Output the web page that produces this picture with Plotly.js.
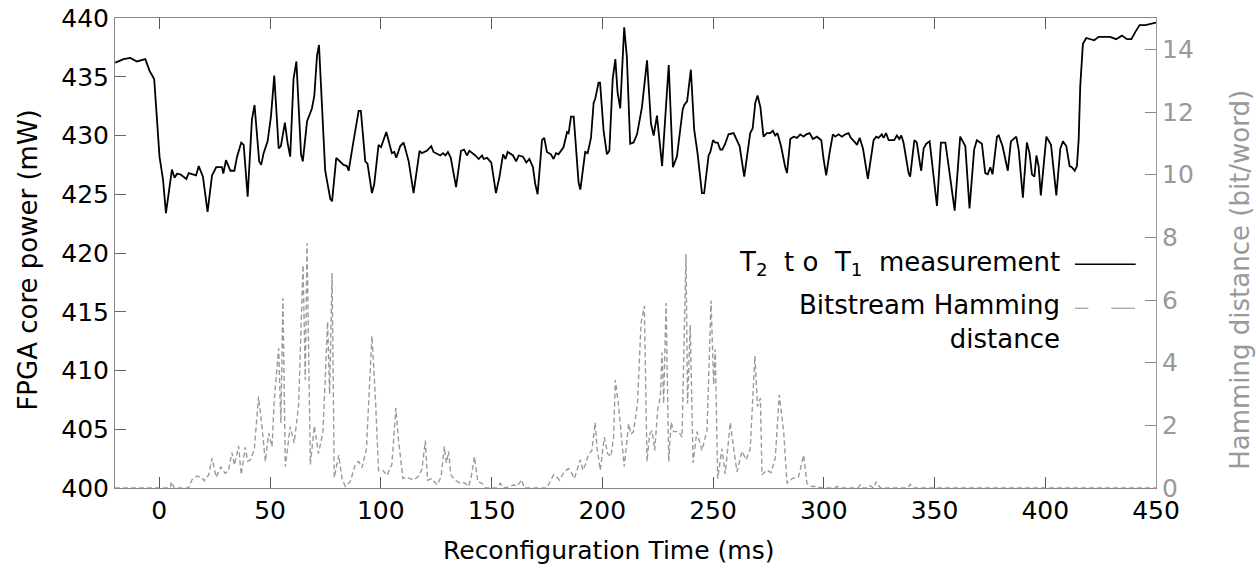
<!DOCTYPE html>
<html>
<head>
<meta charset="utf-8">
<script src="https://cdn.plot.ly/plotly-3.0.1.min.js"></script>
<style>html,body{margin:0;padding:0;background:#fff;}#chart{width:1256px;height:569px;}</style>
</head>
<body>
<div id="chart"></div>
<script>
// Power measurement (ms, mW)
const powerTime = [-19.9,-16.1,-13.1,-10.1,-6.3,-4.4,-2.3,0.1,1.7,3.0,5.7,6.9,8.0,9.5,12.2,13.3,16.6,17.8,19.7,21.8,23.8,25.7,28.3,28.9,30.1,32.1,33.9,35.1,37.0,38.1,39.9,41.8,43.0,45.1,46.0,47.1,48.9,50.4,51.9,53.9,54.9,56.7,57.9,59.1,60.6,61.9,64.0,64.8,66.7,68.9,70.0,71.2,72.1,74.9,77.2,78.0,79.9,81.7,83.2,84.7,85.5,87.4,90.0,91.0,93.0,94.0,96.0,97.0,99.0,100.1,102.5,105.0,106.1,107.0,108.8,110.3,112.6,114.8,117.5,118.5,120.8,122.8,123.8,126.9,128.1,129.2,130.3,131.6,133.6,134.0,136.2,137.6,138.9,140.0,142.7,144.2,145.7,146.5,148.0,149.9,152.0,153.6,155.2,156.3,157.3,159.7,161.1,162.3,164.2,165.7,167.1,168.7,169.7,170.8,172.8,173.8,175.0,176.8,178.0,179.1,180.2,182.5,184.1,184.8,185.9,187.1,189.3,190.1,192.3,193.4,194.9,196.1,196.8,198.3,199.0,200.6,202.1,203.2,204.7,205.9,206.9,208.1,209.9,211.1,212.6,214.1,215.7,217.9,220.2,222.0,223.2,224.7,227.0,229.3,230.0,231.9,233.7,236.3,237.0,238.3,240.0,241.5,243.0,245.0,246.0,248.0,248.8,250.0,251.0,252.1,253.3,254.2,255.5,257.0,259.3,262.0,264.1,266.8,267.9,269.1,270.1,271.4,272.8,274.3,275.8,277.0,278.1,279.1,280.7,282.6,283.4,284.9,286.4,287.9,289.4,290.9,292.1,293.6,295.1,296.9,298.9,299.9,301.1,302.6,304.1,305.2,306.7,308.2,309.7,311.2,312.2,314.2,315.0,316.2,317.7,319.9,322.5,323.7,324.7,326.2,327.0,328.1,329.3,330.8,331.8,333.0,334.1,335.0,336.0,338.3,339.0,340.9,342.0,343.6,344.0,345.1,346.3,347.8,348.4,351.1,352.9,354.9,356.3,359.1,361.6,363.9,365.8,367.9,369.1,371.4,372.9,374.0,375.2,376.2,378.2,379.0,380.7,382.4,383.1,384.5,385.7,386.9,388.0,389.9,391.7,392.9,394.0,395.1,396.0,397.0,398.0,400.5,402.6,405.0,406.8,408.0,409.5,411.0,412.0,413.3,414.3,415.1,415.8,417.0,418.5,420.3,422.1,424.1,426.3,429.3,432.0,434.6,436.9,438.9,440.6,442.6,445.2,447.5,450.0];
const powerValue = [436.2,436.5,436.6,436.3,436.5,435.5,434.8,428.2,426.2,423.4,427.1,426.4,426.75,426.7,426.3,426.8,426.6,427.4,426.5,423.5,426.6,427.3,427.3,426.75,427.9,427.0,427.0,428.2,429.4,429.2,424.8,431.3,432.6,427.8,427.5,428.5,429.5,431.6,435.1,428.9,429.1,431.1,429.4,428.2,434.8,436.3,428.4,427.8,431.2,432.3,433.4,436.8,437.7,427.0,424.6,424.4,428.1,427.8,427.5,427.4,427.0,429.2,432.1,432.1,427.8,427.6,425.1,425.8,429.2,429.0,430.3,428.5,428.6,428.1,429.1,429.4,427.8,425.1,428.7,428.5,428.7,429.1,428.6,428.3,428.5,428.3,428.6,428.1,426.0,425.6,428.7,428.8,428.3,428.7,428.3,428.0,428.3,428.0,428.1,427.7,425.1,426.5,428.4,428.0,428.6,428.3,427.8,428.3,428.2,427.7,428.0,427.3,425.9,425.0,429.6,429.8,428.6,428.4,428.0,428.5,428.4,429.0,430.3,430.2,431.6,431.6,426.0,425.4,428.6,428.5,429.8,432.8,433.1,434.5,434.5,430.4,428.4,428.7,434.8,436.5,433.7,432.3,439.2,436.7,429.3,429.4,430.1,432.4,436.4,431.0,430.0,431.7,427.4,434.8,436.0,427.3,428.2,432.2,432.6,432.9,435.6,430.5,428.5,425.1,425.1,428.3,428.6,429.6,429.4,429.4,428.8,428.8,429.3,430.1,430.2,429.1,426.5,430.2,430.6,432.8,433.4,432.4,429.9,430.2,430.2,430.4,430.0,430.2,429.1,427.3,426.8,429.7,429.9,429.8,430.1,429.9,430.1,430.2,429.7,429.9,429.6,428.0,426.6,428.5,430.1,429.9,430.1,429.9,430.1,430.2,429.8,429.4,429.2,429.8,428.9,426.3,429.6,429.9,429.8,430.1,429.8,430.2,429.6,429.6,429.6,430.0,429.7,430.0,429.4,426.8,426.5,429.6,429.4,427.4,427.0,428.9,429.3,429.5,428.5,424.0,429.4,429.4,427.5,423.6,429.9,429.1,423.8,428.8,429.6,429.3,426.8,426.7,427.3,426.7,429.9,430.0,429.1,427.4,427.0,429.5,429.7,429.9,428.8,424.7,429.4,428.5,426.7,426.5,428.3,427.4,424.9,429.9,429.2,424.9,428.9,429.5,429.1,427.4,427.3,427.0,427.4,429.7,434.2,437.8,438.3,438.2,438.1,438.4,438.4,438.4,438.2,438.5,438.2,438.2,438.8,439.4,439.4,439.5,439.6];

// Bitstream Hamming distance (ms, bit/word)
const hammingTime = [-20,5.0,5.4,6.8,13.2,14.7,17.0,19.2,20.3,22.3,23.8,25.7,27.8,29.7,31.2,32.8,33.9,35.8,37.0,38.8,39.9,41.1,42.9,44.8,46.3,47.9,49.4,50.9,51.9,53.9,54.9,55.8,56.9,59.1,60.9,62.9,64.9,65.9,66.7,68.2,70.0,71.9,73.9,76.0,76.9,78.0,79.0,81.0,82.5,84.0,86.2,88.5,90.0,91.5,93.5,96.0,97.5,99.0,101.0,102.8,105.0,106.8,108.0,110.0,111.8,114.8,117.1,118.6,120.1,121.1,123.1,125.4,127.2,128.7,129.6,130.6,131.6,133.6,135.9,137.7,139.6,140.7,142.3,143.8,145.7,147.3,152.4,153.9,155.4,158.4,159.9,161.4,163.7,164.7,175.0,178.0,179.5,180.7,182.8,184.8,185.9,187.4,188.6,190.1,191.3,192.3,193.8,195.3,196.8,197.6,199.1,200.9,202.4,203.9,205.1,205.9,207.4,208.4,209.9,211.9,213.0,214.1,215.9,217.5,219.0,220.2,221.4,222.5,223.7,225.0,226.2,227.0,227.7,228.8,230.0,231.1,232.2,234.5,236.0,237.8,238.5,239.7,241.0,242.7,245.0,247.3,249.1,250.3,251.0,252.1,254.0,255.5,257.8,259.0,260.8,263.1,265.0,266.8,268.9,270.1,271.4,272.1,274.3,276.2,278.1,279.9,281.9,283.4,285.7,288.6,290.9,292.4,294.6,296.9,299.1,305.0,306.0,307.0,315.5,316.5,317.5,320.0,321.0,322.5,323.7,325.5,338.0,339.0,340.5,450];
const hammingValue = [0,0,0.2,0,0,0.26,0.38,0.34,0.23,0.42,0.95,0.34,0.68,0.47,0.55,1.13,0.73,1.34,0.42,1.3,0.85,0.9,1.22,2.92,2.0,0.85,1.75,1.32,2.81,4.46,2.07,6.06,0.68,1.96,1.43,2.65,7.12,3.45,7.82,0.75,1.98,1.1,1.8,5.31,3.0,6.86,0.33,1.05,0.3,0.05,0.2,0.75,0.85,0.65,1.24,4.85,2.98,0.55,0.56,0.4,0.75,2.55,1.52,0.3,0.35,0.25,0.38,0.6,1.51,0.25,0.3,0.1,0.35,1.32,0.8,1.17,0.42,0.25,0.15,0.17,0.05,0.3,1.0,0.2,0.15,0,0,0.15,0,0.05,0.1,0.05,0.26,0,0,0.42,0.35,0.25,0.52,0.62,0.52,0.3,0.57,0.9,0.57,0.73,1.08,1.2,2.09,1.3,0.57,1.62,1.1,1.0,1.62,3.45,2.6,1.81,0.68,2.05,1.72,1.8,2.7,5.26,5.81,0.85,1.72,1.83,1.2,2.49,2.9,4.32,2.7,5.9,0.85,2.1,1.8,1.8,1.62,7.47,2.7,5.2,0.8,1.8,1.2,1.85,5.98,3.3,4.43,0.3,1.25,0.45,2.09,1.43,0.52,1.17,0.9,1.25,4.21,2.6,2.87,0.42,0.57,0.49,0.95,2.97,1.8,0.15,0.3,0.35,1.05,0.15,0.05,0.05,0,0,0.05,0,0,0.1,0,0,0.07,0,0.2,0,0,0.12,0,0];

const xTicks = [0,50,100,150,200,250,300,350,400,450];
const yTicks = [400,405,410,415,420,425,430,435,440];
const y2Ticks = [0,2,4,6,8,10,12,14];

const xTitle = 'Reconfiguration Time (ms)';
const yTitle = 'FPGA core power (mW)';
const y2Title = 'Hamming distance (bit/word)';
const legendPower = 'T<sub>2</sub>&nbsp; t o&nbsp; T<sub>1</sub>&nbsp; measurement';
const legendHamming = 'Bitstream Hamming<br>distance';

const FONT = 'DejaVu Sans, sans-serif';
const GRAY = '#999999';

const traces = [
  {x: hammingTime, y: hammingValue, yaxis: 'y2', type: 'scatter', mode: 'lines',
   line: {color: '#9a9a9a', width: 1.4, dash: '5px,3px'}, showlegend: false, hoverinfo: 'skip'},
  {x: powerTime, y: powerValue, type: 'scatter', mode: 'lines',
   line: {color: '#000000', width: 1.8}, showlegend: false, hoverinfo: 'skip'}
];

const layout = {
  width: 1256, height: 569,
  margin: {l: 115, r: 100, t: 18, b: 81},
  paper_bgcolor: '#fff', plot_bgcolor: '#fff',
  font: {family: FONT, size: 25, color: '#000'},
  showlegend: false,
  xaxis: {
    range: [-20, 450], tickvals: xTicks, ticktext: xTicks.map(String),
    ticks: 'inside', ticklen: 11, tickcolor: '#555', showline: true, linecolor: '#888',
    mirror: 'ticks', showgrid: false, zeroline: false,
    tickfont: {family: FONT, size: 25, color: '#000'}
  },
  yaxis: {
    range: [400, 440], tickvals: yTicks, ticktext: yTicks.map(String),
    ticks: 'inside', ticklen: 11, tickcolor: '#666', showline: true, linecolor: '#888',
    showgrid: false, zeroline: false,
    tickfont: {family: FONT, size: 25, color: '#000'}
  },
  yaxis2: {
    range: [0, 15], tickvals: y2Ticks, ticktext: y2Ticks.map(String), overlaying: 'y', side: 'right',
    ticks: 'inside', ticklen: 11, tickcolor: '#888', showline: true, linecolor: '#999',
    showgrid: false, zeroline: false,
    tickfont: {family: FONT, size: 25, color: GRAY}
  },
  annotations: [
    {xref: 'paper', yref: 'paper', x: 0.4736, y: -0.134, xanchor: 'center', yanchor: 'middle', showarrow: false,
     text: xTitle, font: {family: FONT, size: 25, color: '#000'}},
    {xref: 'paper', yref: 'paper', x: -0.084, y: 0.485, xanchor: 'center', yanchor: 'middle', showarrow: false,
     textangle: -90, text: yTitle, font: {family: FONT, size: 26, color: '#000'}},
    {xref: 'paper', yref: 'paper', x: 1.0807, y: 0.443, xanchor: 'center', yanchor: 'middle', showarrow: false,
     textangle: -90, text: y2Title, font: {family: FONT, size: 26, color: GRAY}},
    {xref: 'paper', yref: 'paper', x: 0.9094, y: 0.4766, xanchor: 'right', yanchor: 'middle', showarrow: false,
     text: legendPower, font: {family: FONT, size: 26, color: '#000'}},
    {xref: 'paper', yref: 'paper', x: 0.9094, y: 0.354, xanchor: 'right', yanchor: 'middle', align: 'right', showarrow: false,
     text: legendHamming, font: {family: FONT, size: 26, color: '#000'}}
  ],
  shapes: [
    {type: 'line', xref: 'paper', yref: 'paper', x0: 0.9222, x1: 0.9805, y0: 0.476, y1: 0.476, line: {color: '#000', width: 1.4}},
    {type: 'line', xref: 'paper', yref: 'paper', x0: 0.9222, x1: 0.9350, y0: 0.3823, y1: 0.3823, line: {color: '#aaa', width: 1.4}},
    {type: 'line', xref: 'paper', yref: 'paper', x0: 0.9570, x1: 0.9798, y0: 0.3823, y1: 0.3823, line: {color: '#aaa', width: 1.4}}
  ]
};

Plotly.newPlot('chart', traces, layout, {staticPlot: true, displayModeBar: false});
</script>
</body>
</html>
